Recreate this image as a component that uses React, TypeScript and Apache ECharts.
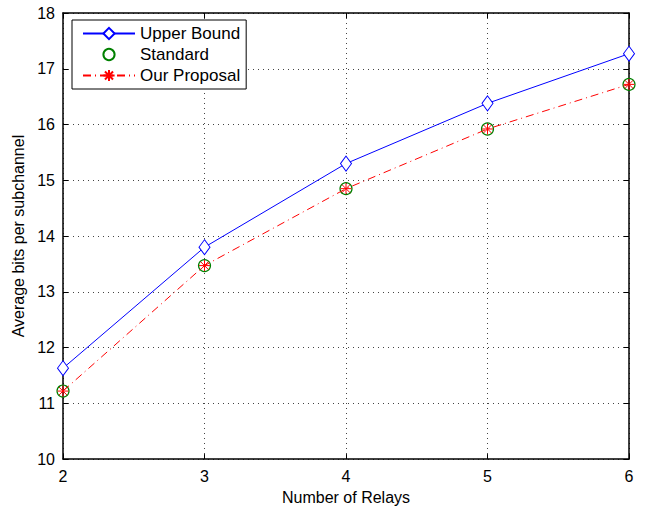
import React, { useEffect, useRef } from "react";
import * as echarts from "echarts";

const relays = [2, 3, 4, 5, 6];
const upperBound = [11.63, 13.8, 15.3, 16.38, 17.27];
const standard = [11.22, 13.47, 14.85, 15.92, 16.72];
const ourProposal = [11.22, 13.47, 14.85, 15.92, 16.72];
const yTicks = [10, 11, 12, 13, 14, 15, 16, 17, 18];

const FONT = "Liberation Sans";
const asterisk =
  "path://M0,-5L0,5M-5,0L5,0M-3.6,-3.6L3.6,3.6M-3.6,3.6L3.6,-3.6";

export default function App() {
  const ref = useRef<HTMLDivElement>(null);
  useEffect(() => {
    const chart = echarts.init(ref.current!, null, { renderer: "svg" });
    const pair = (ys: number[]) => relays.map((x, i) => [x, ys[i]]);
    const gridLine = {
      show: true,
      lineStyle: { color: "#444", type: [1, 4], width: 1 },
    };
    chart.setOption({
      animation: false,
      backgroundColor: "#fff",
      textStyle: { fontFamily: FONT },
      grid: { left: 63, right: 24, top: 13, bottom: 46 },
      legend: {
        orient: "vertical",
        left: 72,
        top: 20,
        padding: [5, 6, 5, 10],
        itemGap: 4,
        itemWidth: 52,
        itemHeight: 14,
        backgroundColor: "#fff",
        borderColor: "#000",
        borderWidth: 1,
        borderRadius: 0,
        textStyle: { fontFamily: FONT, fontSize: 17, color: "#000", lineHeight: 17 },
        data: ["Upper Bound", "Standard", "Our Proposal"],
      },
      xAxis: [
        {
          type: "value",
          min: 2,
          max: 6,
          interval: 1,
          name: "Number of Relays",
          nameLocation: "middle",
          nameGap: 27,
          nameTextStyle: { fontFamily: FONT, fontSize: 16, color: "#000" },
          axisLine: { onZero: false, lineStyle: { color: "#000", width: 1.5 } },
          axisTick: { inside: true, length: 5, lineStyle: { color: "#000" } },
          axisLabel: { fontFamily: FONT, fontSize: 16, color: "#000", margin: 9 },
          splitLine: gridLine,
        },
        {
          type: "value",
          position: "top",
          min: 2,
          max: 6,
          interval: 1,
          axisLine: { onZero: false, lineStyle: { color: "#000", width: 1.5 } },
          axisTick: { inside: true, length: 5, lineStyle: { color: "#000" } },
          axisLabel: { show: false },
          splitLine: { show: false },
        },
      ],
      yAxis: [
        {
          type: "value",
          min: 10,
          max: 18,
          interval: 1,
          name: "Average bits per subchannel",
          nameLocation: "middle",
          nameGap: 34,
          nameTextStyle: { fontFamily: FONT, fontSize: 16, color: "#000" },
          axisLine: { onZero: false, lineStyle: { color: "#000", width: 1.5 } },
          axisTick: { inside: true, length: 5, lineStyle: { color: "#000" } },
          axisLabel: {
            fontFamily: FONT,
            fontSize: 16,
            color: "#000",
            margin: 8,
            formatter: (v: number) => (yTicks.includes(v) ? String(v) : ""),
          },
          splitLine: gridLine,
        },
        {
          type: "value",
          position: "right",
          min: 10,
          max: 18,
          interval: 1,
          axisLine: { onZero: false, lineStyle: { color: "#000", width: 1.5 } },
          axisTick: { inside: true, length: 5, lineStyle: { color: "#000" } },
          axisLabel: { show: false },
          splitLine: { show: false },
        },
      ],
      series: [
        {
          name: "Upper Bound",
          type: "line",
          data: pair(upperBound),
          symbol: "diamond",
          symbolSize: [11, 15],
          showAllSymbol: true,
          lineStyle: { color: "#0000ff", width: 1 },
          itemStyle: { color: "#fff", borderColor: "#0000ff", borderWidth: 1 },
          color: "#0000ff",
        },
        {
          name: "Standard",
          type: "line",
          data: pair(standard),
          symbol: "circle",
          symbolSize: 12,
          lineStyle: { width: 0, opacity: 0 },
          itemStyle: { color: "rgba(255,255,255,0)", borderColor: "#008000", borderWidth: 1.2 },
          color: "#008000",
          z: 3,
        },
        {
          name: "Our Proposal",
          type: "line",
          data: pair(ourProposal),
          symbol: asterisk,
          symbolSize: 11,
          lineStyle: { color: "#ff0000", width: 1, type: [8, 4, 1, 4] },
          itemStyle: { color: "#ff0000", borderColor: "#ff0000", borderWidth: 1 },
          color: "#ff0000",
          z: 4,
        },
      ],
    });
    return () => chart.dispose();
  }, []);
  return <div ref={ref} style={{ width: 653, height: 510, position: "absolute", left: 0, top: 0 }} />;
}
